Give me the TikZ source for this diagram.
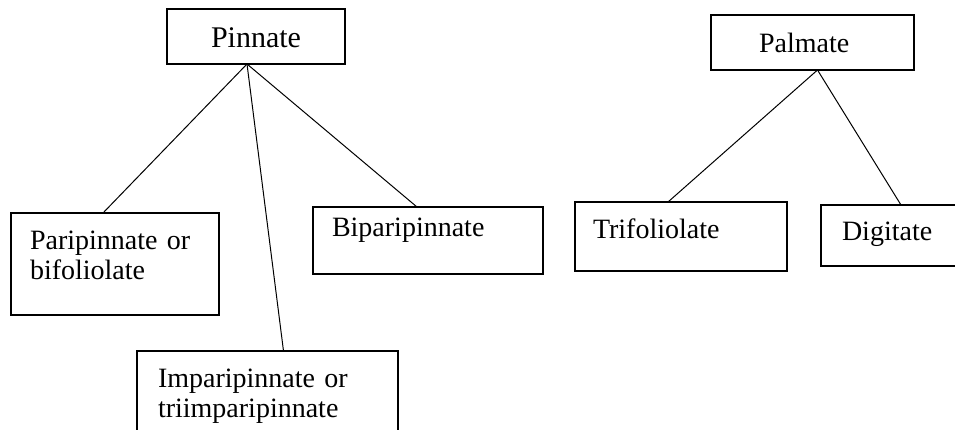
\documentclass[tikz,border=0pt]{standalone}
\usepackage{fontspec}
\setmainfont{Liberation Serif}

\begin{document}
\begin{tikzpicture}[x=1pt, y=-1pt,
        box/.style={draw, line width=1.2pt, anchor=north west, inner ysep=0pt, outer sep=0pt,
            align=left, font=\fontsize{28}{30}\selectfont},
        link/.style={line width=1pt}]
        \useasboundingbox (0,0) rectangle (955,429);
        \clip (0,0) rectangle (955,429);
        \node[box, inner xsep=44pt, text width=90pt, text height=38pt, text depth=17pt,
            font=\fontsize{30}{32}\selectfont] (pin) at (167,9) {Pinnate};
        \node[box, inner xsep=19pt, text width=170pt, text height=36pt, text depth=66pt] (par) at (11,213) {Paripinnate or\\bifoliolate};
        \node[box, inner xsep=21pt, text width=219pt, text height=36pt, text depth=53pt] (imp) at (137,351) {Imparipinnate or\\triimparipinnate};
        \node[box, inner xsep=19pt, text width=192pt, text height=29pt, text depth=38pt] (bip) at (313,207) {Biparipinnate};
        \node[box, inner xsep=48pt, text width=107pt, text height=37pt, text depth=18pt] (pal) at (711,15) {Palmate};
        \node[box, inner xsep=18pt, text width=176pt, text height=36pt, text depth=33pt] (tri) at (575,202) {Trifoliolate};
        \node[box, inner xsep=21pt, text width=108pt, text height=35pt, text depth=26pt] (dig) at (821,205) {Digitate};
        \draw[link] ([xshift=-9pt]pin.south) -- ([xshift=-12pt]par.north);
        \draw[link] ([xshift=-9pt]pin.south) -- ([xshift=16pt]imp.north);
        \draw[link] ([xshift=-9pt]pin.south) -- ([xshift=-11pt]bip.north);
        \draw[link] ([xshift=5pt]pal.south) -- ([xshift=-13pt]tri.north);
        \draw[link] ([xshift=5pt]pal.south) -- ([xshift=5pt]dig.north);
    \end{tikzpicture}
\end{document}
